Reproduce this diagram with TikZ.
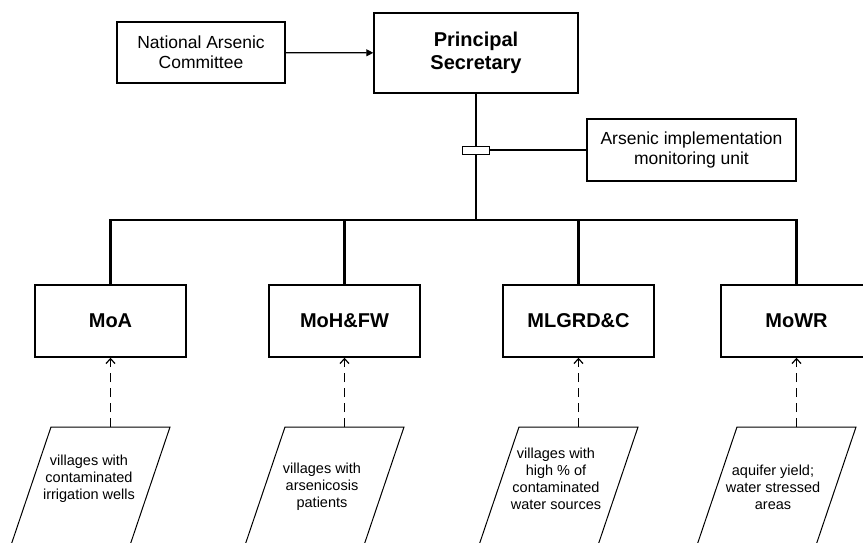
\documentclass[tikz,border=0pt]{standalone}
\usepackage{fontspec}
\setmainfont{Liberation Sans}
\usepackage{tikz}
\usetikzlibrary{arrows.meta, positioning}
\tikzset{
  box/.style={rectangle, draw=black, fill=white, line width=1.4pt,
    align=center, inner sep=0pt,
    font=\fontsize{17.5}{20}\selectfont},
  headbox/.style={box, minimum width=204pt, minimum height=80pt,
    font=\fontsize{20}{23}\selectfont\bfseries},
  minbox/.style={box, minimum width=151pt, minimum height=72pt,
    font=\fontsize{20}{23}\selectfont\bfseries},
  datatext/.style={align=center, inner sep=0pt,
    font=\fontsize{14.5}{17}\selectfont},
  para/.style={line width=1pt, draw=black},
  trunk/.style={line width=2.8pt, draw=black},
  arrow/.style={-{Triangle[length=7pt,width=7pt]}, line width=1.2pt},
  feed/.style={-{Straight Barb[length=5pt,width=9pt]}, line width=1.2pt,
    dash pattern=on 9pt off 6pt}
}

\begin{document}
\begin{tikzpicture}[x=1pt, y=-1pt]
  \useasboundingbox (0,0) rectangle (863,542);

  % top level
  \node[headbox] (ps) at (476,53) {Principal\\Secretary};
  \node[box, minimum width=168pt, minimum height=61pt] (nac) at (201,52.5)
    {National Arsenic\\Committee};
  \node[box, minimum width=209pt, minimum height=62pt] (aimu) at (691.5,150)
    {Arsenic implementation\\monitoring unit};
  \draw[arrow] (nac) -- (ps);

  % ministries
  \node[minbox] (moa)   at (110.5,321) {MoA};
  \node[minbox] (mohfw) at (344.5,321) {MoH\&FW};
  \node[minbox] (mlgrd) at (578.5,321) {MLGRD\&C};
  \node[minbox] (mowr)  at (796.5,321) {MoWR};

  \coordinate (bus) at (476,220);
  \draw[trunk] (ps.south) -- (bus);
  \draw[trunk] (bus) -| (moa.north);
  \draw[trunk] (bus) -| (mohfw.north);
  \draw[trunk] (bus) -| (mlgrd.north);
  \draw[trunk] (bus) -| (mowr.north);

  \node[rectangle, draw=black, fill=white, line width=1pt,
    minimum width=27pt, minimum height=8pt, inner sep=0pt] (tap) at (476,150) {};
  \draw[trunk, line width=2.2pt] (tap.east) -- (aimu.west);

  % data sources
  \coordinate (moa-in)   at (110.5,427);
  \coordinate (mohfw-in) at (344.5,427);
  \coordinate (mlgrd-in) at (578.5,427);
  \coordinate (mowr-in)  at (796.5,427);

  \draw[para] (moa-in) ++(-59.5,0) -- ++(119,0) -- ++(-45,133) -- ++(-119,0) -- cycle;
  \draw[para] (mohfw-in) ++(-59.5,0) -- ++(119,0) -- ++(-45,133) -- ++(-119,0) -- cycle;
  \draw[para] (mlgrd-in) ++(-59.5,0) -- ++(119,0) -- ++(-45,133) -- ++(-119,0) -- cycle;
  \draw[para] (mowr-in) ++(-59.5,0) -- ++(119,0) -- ++(-45,133) -- ++(-119,0) -- cycle;

  \node[datatext] (moa-d)   at (89,479) {villages with\\contaminated\\irrigation wells};
  \node[datatext] (mohfw-d) at (322,487) {villages with\\arsenicosis\\patients};
  \node[datatext] (mlgrd-d) at (556,479) {villages with\\high \% of\\contaminated\\water sources};
  \node[datatext] (mowr-d)  at (773,487) {aquifer yield;\\water stressed\\areas};

  \draw[feed] (moa-in) -- (moa.south);
  \draw[feed] (mohfw-in) -- (mohfw.south);
  \draw[feed] (mlgrd-in) -- (mlgrd.south);
  \draw[feed] (mowr-in) -- (mowr.south);
\end{tikzpicture}
\end{document}
